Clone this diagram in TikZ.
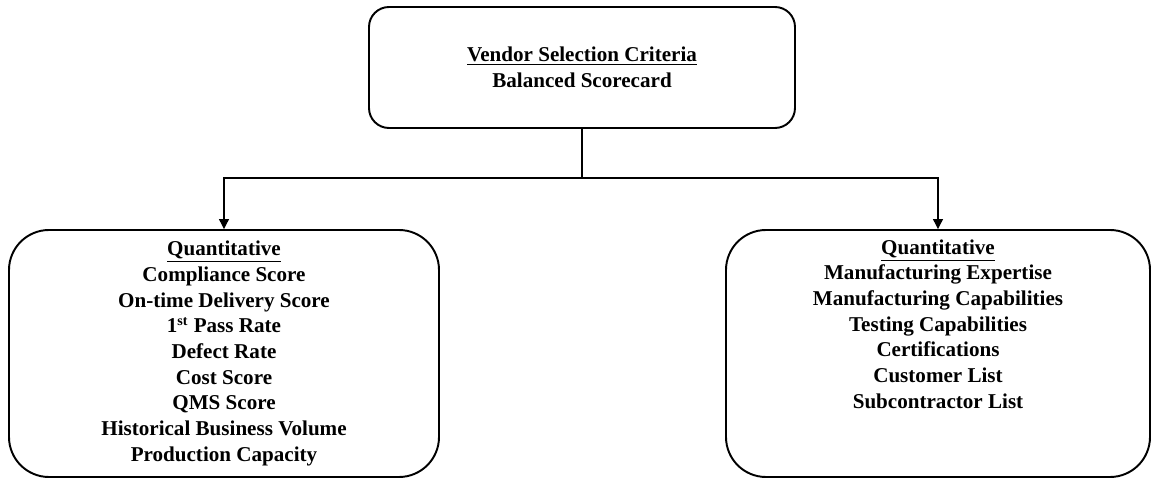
\documentclass[tikz,border=0pt]{standalone}
\usepackage{fontspec}
\setmainfont{Liberation Serif}
\usetikzlibrary{arrows.meta}
\begin{document}
\begin{tikzpicture}[   % opciones por defecto
  font=\fontsize{12}{14.6}\selectfont\bfseries,
  draw=black!100
]
  \tikzstyle{caja}=[draw, line width=1.1pt, align=center, inner sep=0pt];
  \tikzstyle{conector}=[draw, line width=0.7pt];
  %
  % marco de la imagen
  \useasboundingbox (0,0) rectangle (23.02,-9.56);
  %
  % caja superior
  \node [caja, rounded corners=0.4cm, minimum width=8.52cm, minimum height=2.42cm]
    (top) at (11.64,-1.35) {\underline{Vendor Selection Criteria}\\Balanced Scorecard};
  %
  % caja izquierda
  \node [caja, rounded corners=0.8cm, minimum width=8.6cm, minimum height=4.94cm]
    (quant) at (4.48,-7.07) {\underline{Quantitative}\\Compliance Score\\On-time Delivery Score\\
    1\textsuperscript{st} Pass Rate\\Defect Rate\\Cost Score\\QMS Score\\
    Historical Business Volume\\Production Capacity};
  %
  % caja derecha
  \node [caja, rounded corners=0.8cm, minimum width=8.48cm, minimum height=4.94cm]
    (qual) at (18.76,-7.07) {\underline{Quantitative}\\Manufacturing Expertise\\
    Manufacturing Capabilities\\Testing Capabilities\\Certifications\\
    Customer List\\Subcontractor List\\\strut\\\strut};
  %
  % conexiones
  \coordinate (split) at (top.south |- 0,-3.56);
  \draw[conector] (top.south) -- (split);
  \draw[conector, -{Triangle[length=2mm,width=2mm]}] (split) -| (quant.north);
  \draw[conector, -{Triangle[length=2mm,width=2mm]}] (split) -| (qual.north);
\end{tikzpicture}
\end{document}
